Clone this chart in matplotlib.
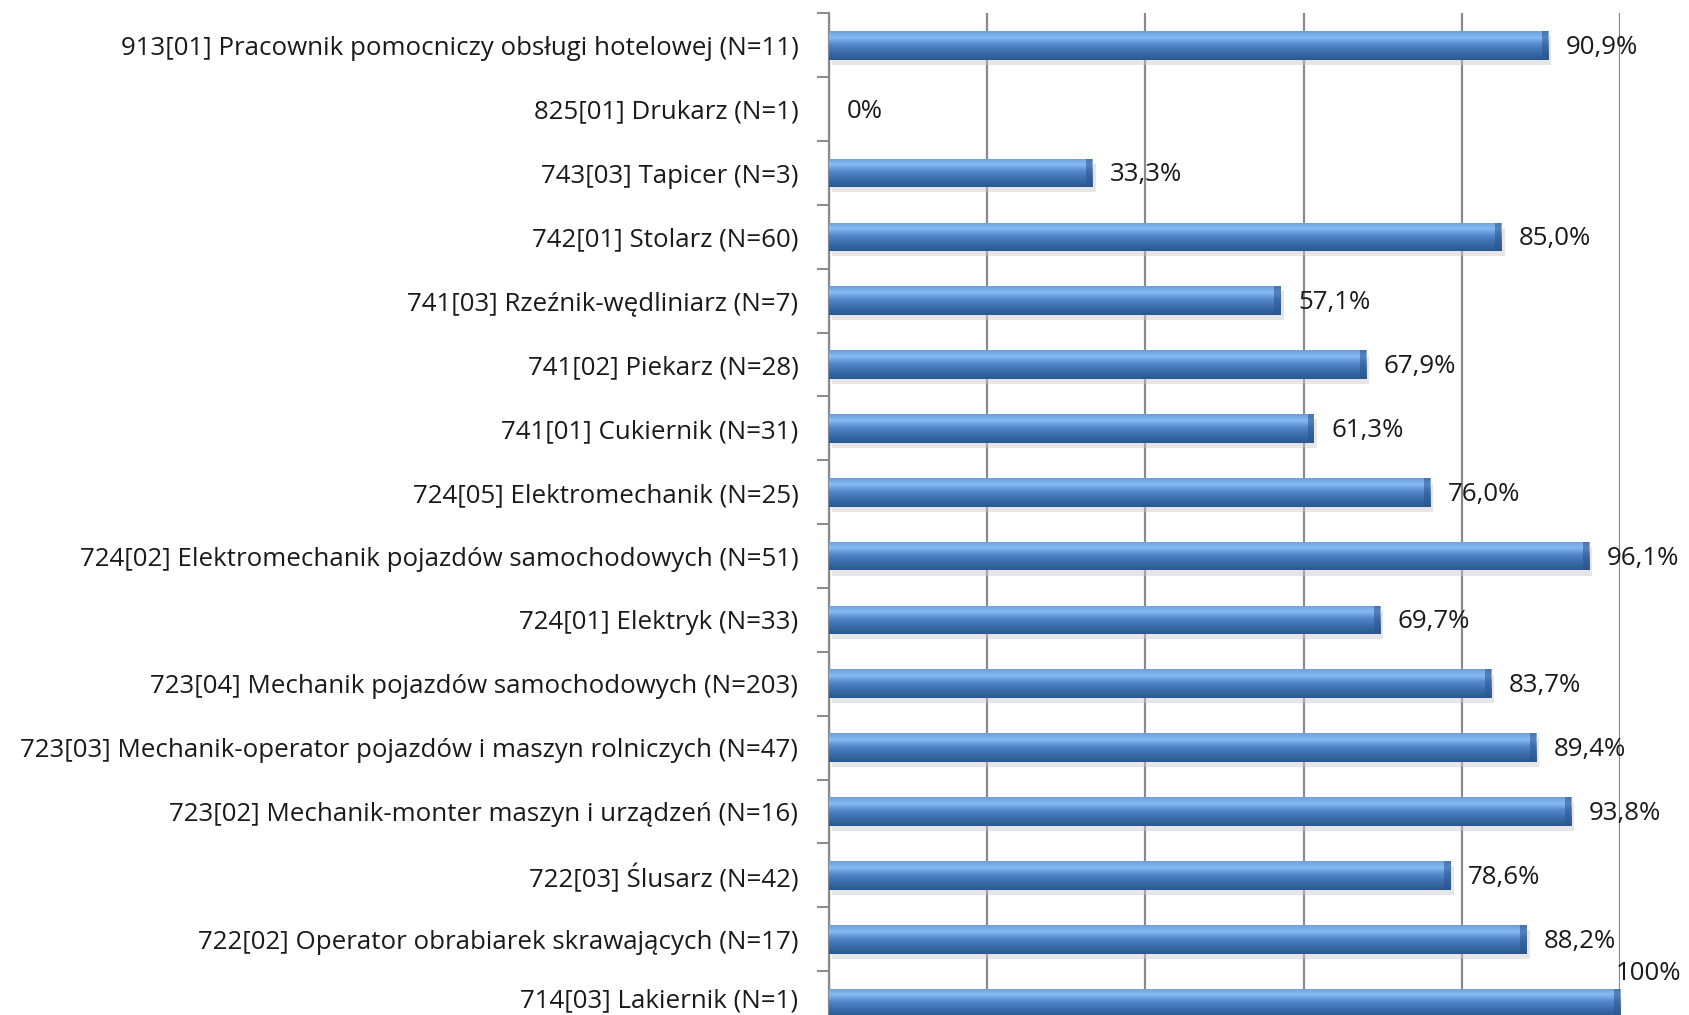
import matplotlib
matplotlib.use("Agg")
import matplotlib.pyplot as plt
import matplotlib.transforms as mtransforms
import numpy as np
from matplotlib.colors import LinearSegmentedColormap

categories = [
    "913[01] Pracownik pomocniczy obsługi hotelowej (N=11)",
    "825[01] Drukarz (N=1)",
    "743[03] Tapicer (N=3)",
    "742[01] Stolarz (N=60)",
    "741[03] Rzeźnik-wędliniarz (N=7)",
    "741[02] Piekarz (N=28)",
    "741[01] Cukiernik (N=31)",
    "724[05] Elektromechanik (N=25)",
    "724[02] Elektromechanik pojazdów samochodowych (N=51)",
    "724[01] Elektryk (N=33)",
    "723[04] Mechanik pojazdów samochodowych (N=203)",
    "723[03] Mechanik-operator pojazdów i maszyn rolniczych (N=47)",
    "723[02] Mechanik-monter maszyn i urządzeń (N=16)",
    "722[03] Ślusarz (N=42)",
    "722[02] Operator obrabiarek skrawających (N=17)",
    "714[03] Lakiernik (N=1)",
]
values = [90.9, 0, 33.3, 85.0, 57.1, 67.9, 61.3, 76.0, 96.1, 69.7, 83.7, 89.4, 93.8, 78.6, 88.2, 100]
value_labels = ["90,9%", "0%", "33,3%", "85,0%", "57,1%", "67,9%", "61,3%", "76,0%",
                "96,1%", "69,7%", "83,7%", "89,4%", "93,8%", "78,6%", "88,2%", "100%"]
x_ticks = [0, 20, 40, 60, 80, 100]

FONT = ["Open Sans", "DejaVu Sans"]
plt.rcParams["font.family"] = FONT
FS = 18.6

fig = plt.figure(figsize=(16.9, 10.15), dpi=100)
ax = fig.add_axes([0.4905, -0.0197, 0.4681, 1.0065])

n = len(categories)
y = np.arange(n)
bh = 0.45

# shadows
ax.barh(y + 0.08, values, height=bh, left=0.4, color="#c8c8c8", alpha=0.45, zorder=2, linewidth=0)
bars = ax.barh(y, values, height=bh, color="#4a7ebb", zorder=3, linewidth=0)

cmap = LinearSegmentedColormap.from_list("g", [
    (0.0, "#6a9fe0"), (0.22, "#86bbf2"), (0.45, "#5589cc"), (0.7, "#3d6fae"), (1.0, "#2b5890")])
grad = np.linspace(0, 1, 64).reshape(-1, 1)
for b, v in zip(bars, values):
    if v <= 0:
        continue
    yc = b.get_y()
    im = ax.imshow(grad, cmap=cmap, aspect="auto", extent=(0, v, yc + bh, yc),
                   interpolation="bilinear", zorder=4)
    im.set_clip_path(b)
    ax.barh(b.get_y() + bh / 2, 0.8, left=v - 0.8, height=bh, color="#2a5590", alpha=0.55,
            zorder=5, linewidth=0)

for i, (v, lab) in enumerate(zip(values, value_labels)):
    if v >= 100:
        ax.text(v - 0.6, i - 0.47, lab, ha="left", va="center", fontsize=FS, color="#1a1a1a",
                zorder=6, clip_on=False)
    else:
        ax.text(v + 2.2, i + 0.03, lab, ha="left", va="center", fontsize=FS, color="#1a1a1a",
                zorder=6)

ax.set_xlim(0, 100)
ax.set_ylim(n - 0.5, -0.5)
ax.set_xticks(x_ticks)
ax.set_xticklabels([])
ax.tick_params(axis="x", length=0)
ax.xaxis.grid(True, color="#8a8a8a", linewidth=1.6, zorder=1)
ax.set_axisbelow(True)

ax.set_yticks(y)
ax.set_yticklabels(categories, fontsize=FS, color="#1a1a1a")
ax.set_yticks(np.arange(n + 1) - 0.5, minor=True)
ax.tick_params(axis="y", which="major", length=0, pad=22)
ax.tick_params(axis="y", which="minor", length=8.5, width=1.4, color="#8a8a8a")

# keep the bottom-most label fully inside the canvas
last = ax.get_yticklabels()[-1]
last.set_transform(last.get_transform() + mtransforms.ScaledTranslation(0, 5 / 100, fig.dpi_scale_trans))

for s in ["top", "right", "bottom"]:
    ax.spines[s].set_visible(False)
ax.spines["left"].set_color("#8a8a8a")
ax.spines["left"].set_linewidth(1.6)

fig.savefig("out.png", dpi=100)
